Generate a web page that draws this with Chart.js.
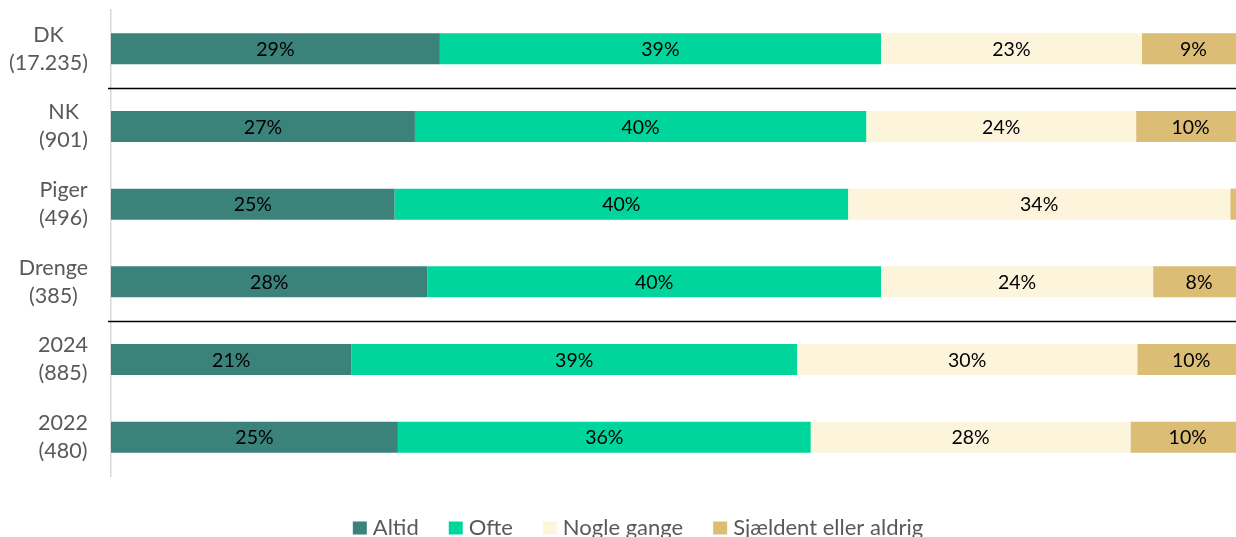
<!DOCTYPE html>
<html>
<head>
<meta charset="utf-8">
<script src="https://cdn.jsdelivr.net/npm/chart.js@4.4.0/dist/chart.umd.min.js"></script>
<style>
  html, body { margin: 0; padding: 0; background: #fff; overflow: hidden; }
  #wrap { width: 1246px; height: 537px; }
</style>
</head>
<body>
<div id="wrap"><canvas id="chart" width="1246" height="537"></canvas></div>
<script>
const categories = [
    ['DK', '(17.235)'],
    ['NK', '(901)'],
    ['Piger', '(496)'],
    ['Drenge', '(385)'],
    ['2024', '(885)'],
    ['2022', '(480)']
];
const seriesNames = ['Altid', 'Ofte', 'Nogle gange', 'Sjældent eller aldrig'];
const altid = [29, 26.8, 25, 27.9, 21.2, 25.3];
const ofte = [38.9, 39.8, 40, 40, 39.3, 36.4];
const nogleGange = [23.0, 23.8, 33.7, 24, 30, 28.2];
const sjaeldent = [9.1, 9.6, 1.3, 8.1, 9.5, 10.1];
const colors = ['#3b827b', '#00d59b', '#fdf4dc', '#dbbd76'];
// separator lines drawn after these category indexes
const separatorsAfter = [0, 3];

const FONT = 'Lato, "Open Sans", sans-serif';
const GREY = '#595959';

// category labels: lines centered on each other, block right-aligned
const categoryLabels = {
    id: 'categoryLabels',
    afterDraw(chart) {
        const ctx = chart.ctx;
        const y = chart.scales.y;
        const rightX = 88;
        const lh = 28;
        ctx.save();
        ctx.font = '21.5px ' + FONT;
        ctx.fillStyle = GREY;
        ctx.textAlign = 'center';
        ctx.textBaseline = 'middle';
        categories.forEach((lines, i) => {
            const cy = y.getPixelForValue(i);
            const w = Math.max(...lines.map(l => ctx.measureText(l).width));
            const cx = rightX - w / 2;
            lines.forEach((l, j) => {
                ctx.fillText(l, cx, cy + (j - (lines.length - 1) / 2) * lh);
            });
        });
        ctx.restore();
    }
};

const separators = {
    id: 'separators',
    afterDatasetsDraw(chart) {
        const ctx = chart.ctx;
        const y = chart.scales.y;
        ctx.save();
        ctx.strokeStyle = '#000';
        ctx.lineWidth = 1.5;
        separatorsAfter.forEach(i => {
            const py = Math.round((y.getPixelForValue(i) + y.getPixelForValue(i + 1)) / 2) + 0.5;
            ctx.beginPath();
            ctx.moveTo(108, py);
            ctx.lineTo(chart.width, py);
            ctx.stroke();
        });
        ctx.restore();
    }
};

const valueLabels = {
    id: 'valueLabels',
    afterDatasetsDraw(chart) {
        const ctx = chart.ctx;
        ctx.save();
        ctx.font = '19.5px ' + FONT;
        ctx.fillStyle = '#000';
        ctx.textAlign = 'center';
        ctx.textBaseline = 'middle';
        chart.data.datasets.forEach((ds, di) => {
            const meta = chart.getDatasetMeta(di);
            meta.data.forEach((bar, i) => {
                const v = Math.round(ds.data[i]);
                if (v < 3) return;
                const p = bar.getProps(['x', 'base', 'y'], true);
                ctx.fillText(v + '%', (p.x + p.base) / 2, p.y + 1);
            });
        });
        ctx.restore();
    }
};

// bottom legend with tight box-to-text gap
const bottomLegend = {
    id: 'bottomLegend',
    afterDraw(chart) {
        const ctx = chart.ctx;
        const box = 14, gap = 6, between = 30, cy = 528;
        ctx.save();
        ctx.font = '22px ' + FONT;
        ctx.textBaseline = 'middle';
        ctx.textAlign = 'left';
        const items = chart.data.datasets.map(ds => ({
            text: ds.label, color: ds.backgroundColor, w: ctx.measureText(ds.label).width
        }));
        const total = items.reduce((s, it) => s + box + gap + it.w, 0) + between * (items.length - 1);
        let x = 638 - total / 2;
        items.forEach(it => {
            ctx.fillStyle = it.color;
            ctx.fillRect(x, cy - 6.5, box, 13);
            ctx.fillStyle = GREY;
            ctx.fillText(it.text, x + box + gap, cy);
            x += box + gap + it.w + between;
        });
        ctx.restore();
    }
};

const seriesData = [altid, ofte, nogleGange, sjaeldent];

new Chart(document.getElementById('chart'), {
    type: 'bar',
    data: {
        labels: categories,
        datasets: seriesNames.map((name, i) => ({
            label: name,
            data: seriesData[i],
            backgroundColor: colors[i],
            borderWidth: 0,
            categoryPercentage: 1,
            barPercentage: 0.4
        }))
    },
    options: {
        indexAxis: 'y',
        responsive: false,
        animation: false,
        devicePixelRatio: 1,
        layout: { padding: { top: 10, right: 1, left: 0, bottom: 61 } },
        scales: {
            x: { stacked: true, min: 0, max: 100, display: false },
            y: {
                stacked: true,
                grid: { display: false, drawTicks: false },
                border: { display: true, color: '#d9d9d9', width: 1.5 },
                ticks: { display: false },
                afterFit(scale) { scale.width = 111; }
            }
        },
        plugins: {
            tooltip: { enabled: false },
            legend: { display: false }
        }
    },
    plugins: [categoryLabels, separators, valueLabels, bottomLegend]
});
</script>
</body>
</html>
